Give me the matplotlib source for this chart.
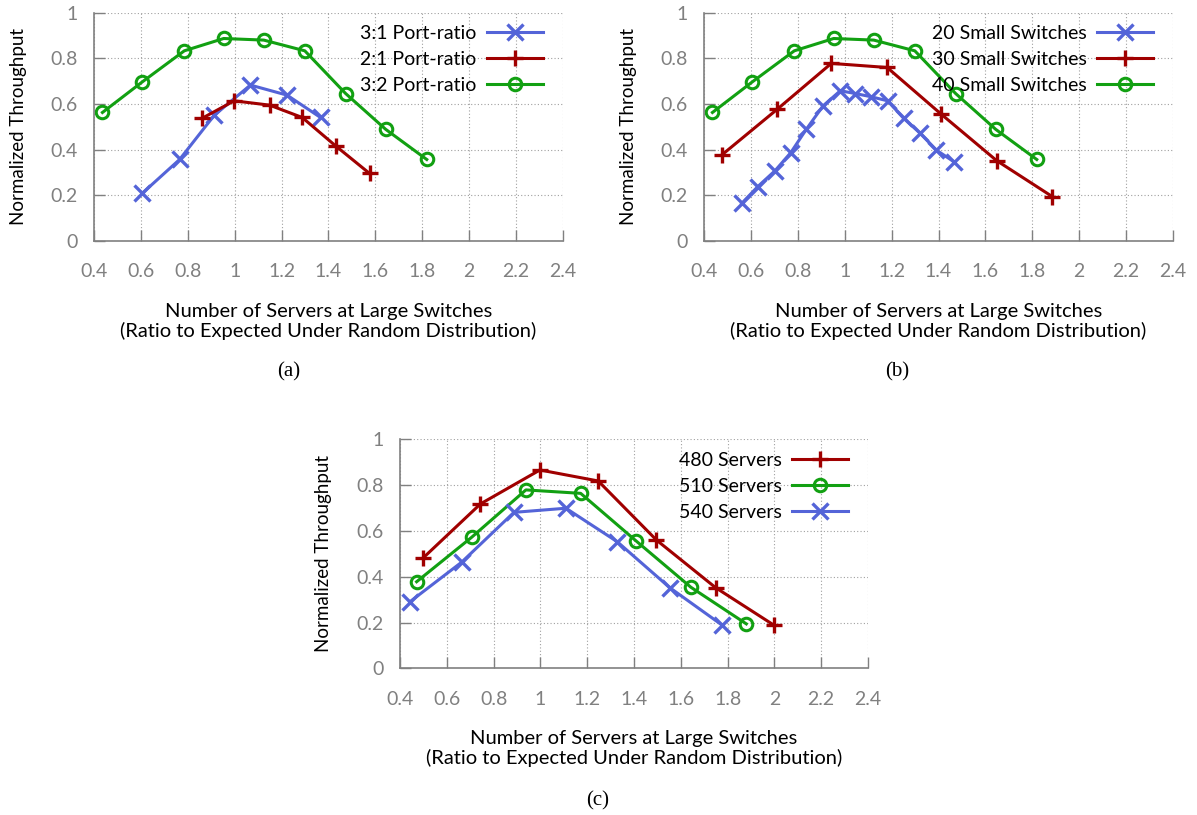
import matplotlib.pyplot as plt

plt.rcParams['font.family'] = ['Lato', 'DejaVu Sans']

# (a) port ratios
a_31_x = [0.606, 0.765, 0.913, 1.067, 1.223, 1.366]
a_31_y = [0.209, 0.357, 0.551, 0.683, 0.639, 0.541]
a_21_x = [0.860, 0.998, 1.149, 1.288, 1.430, 1.575]
a_21_y = [0.537, 0.614, 0.595, 0.541, 0.417, 0.296]
a_32_x = [0.436, 0.606, 0.785, 0.953, 1.124, 1.299, 1.473, 1.644, 1.819]
a_32_y = [0.563, 0.697, 0.833, 0.887, 0.880, 0.833, 0.646, 0.489, 0.357]

# (b) number of small switches
b_20_x = [0.561, 0.629, 0.703, 0.770, 0.836, 0.907, 0.981, 1.045, 1.112,
          1.183, 1.252, 1.323, 1.391, 1.466]
b_20_y = [0.165, 0.238, 0.308, 0.387, 0.489, 0.591, 0.658, 0.646, 0.632,
          0.614, 0.537, 0.471, 0.398, 0.347]
b_30_x = [0.475, 0.711, 0.943, 1.181, 1.411, 1.648, 1.886]
b_30_y = [0.376, 0.576, 0.778, 0.760, 0.556, 0.352, 0.194]
b_40_x = a_32_x
b_40_y = a_32_y

# (c) number of servers
c_480_x = [0.500, 0.744, 0.998, 1.247, 1.496, 1.749, 1.997]
c_480_y = [0.483, 0.718, 0.866, 0.818, 0.560, 0.352, 0.189]
c_510_x = [0.471, 0.706, 0.938, 1.172, 1.408, 1.643, 1.880]
c_510_y = [0.378, 0.572, 0.779, 0.764, 0.557, 0.354, 0.194]
c_540_x = [0.443, 0.663, 0.887, 1.109, 1.328, 1.553, 1.776]
c_540_y = [0.291, 0.463, 0.681, 0.699, 0.553, 0.352, 0.189]

xticks = [0.4, 0.6, 0.8, 1.0, 1.2, 1.4, 1.6, 1.8, 2.0, 2.2, 2.4]
xtick_labels = ['0.4', '0.6', '0.8', '1', '1.2', '1.4', '1.6', '1.8', '2', '2.2', '2.4']
yticks = [0, 0.2, 0.4, 0.6, 0.8, 1.0]
ytick_labels = ['0', '0.2', '0.4', '0.6', '0.8', '1']

BLUE = '#5464d8'
RED = '#a00000'
GREEN = '#12a012'
GRAY = '#808080'

W, H = 1197, 815
fig = plt.figure(figsize=(W / 100, H / 100), dpi=100)


def make_axes(left, top, right, bottom):
    ax = fig.add_axes([left / W, 1 - bottom / H, (right - left) / W, (bottom - top) / H])
    ax.set_xlim(0.4, 2.4)
    ax.set_ylim(0, 1)
    ax.set_xticks(xticks)
    ax.set_xticklabels(xtick_labels)
    ax.set_yticks(yticks)
    ax.set_yticklabels(ytick_labels)
    ax.tick_params(direction='in', length=8, width=1, color=GRAY,
                   labelcolor=GRAY, labelsize=14)
    ax.tick_params(axis='x', pad=16)
    ax.tick_params(axis='y', pad=12)
    for side in ['top', 'right']:
        ax.spines[side].set_visible(False)
    for side in ['left', 'bottom']:
        ax.spines[side].set_color(GRAY)
        ax.spines[side].set_linewidth(1.2)
    ax.grid(True, linestyle=(0, (1, 2)), color='#a0a0a0', linewidth=0.8)
    ax.set_axisbelow(True)
    ax.set_ylabel('Normalized Throughput', fontsize=13.5)
    ax.yaxis.set_label_coords(-0.143, 0.5)
    ax.set_xlabel('Number of Servers at Large Switches\n'
                  '(Ratio to Expected Under Random Distribution)',
                  fontsize=14.5, linespacing=1.15)
    ax.xaxis.set_label_coords(0.5, -0.27)
    return ax


def draw(ax, x, y, color, marker, label):
    if marker == 'o':
        ax.plot(x, y, color=color, lw=2.2, marker='o', ms=9, mfc='none',
                mew=2.2, label=label, clip_on=False)
    else:
        ax.plot(x, y, color=color, lw=2.2, marker=marker, ms=11,
                mew=2.4, label=label, clip_on=False)


def add_legend(ax):
    ax.legend(loc='upper right', bbox_to_anchor=(0.957, 0.945), frameon=False,
              markerfirst=False, fontsize=14, handlelength=2.85,
              labelspacing=0.46, handletextpad=0.55, borderaxespad=0,
              borderpad=0)


ax_a = make_axes(94, 12.7, 563, 241)
draw(ax_a, a_31_x, a_31_y, BLUE, 'x', '3:1 Port-ratio')
draw(ax_a, a_21_x, a_21_y, RED, '+', '2:1 Port-ratio')
draw(ax_a, a_32_x, a_32_y, GREEN, 'o', '3:2 Port-ratio')
add_legend(ax_a)

ax_b = make_axes(704, 12.7, 1173, 241)
draw(ax_b, b_20_x, b_20_y, BLUE, 'x', '20 Small Switches')
draw(ax_b, b_30_x, b_30_y, RED, '+', '30 Small Switches')
draw(ax_b, b_40_x, b_40_y, GREEN, 'o', '40 Small Switches')
add_legend(ax_b)

ax_c = make_axes(400, 439.3, 868, 668.3)
draw(ax_c, c_480_x, c_480_y, RED, '+', '480 Servers')
draw(ax_c, c_510_x, c_510_y, GREEN, 'o', '510 Servers')
draw(ax_c, c_540_x, c_540_y, BLUE, 'x', '540 Servers')
ax_c.yaxis.set_label_coords(-0.146, 0.5)
add_legend(ax_c)

for label, cx, cy in [('(a)', 289, 372), ('(b)', 897, 372), ('(c)', 598, 801)]:
    fig.text(cx / W, 1 - cy / H, label, ha='center', va='center',
             fontsize=15, family='Liberation Serif')

fig.savefig('out.png', dpi=100)
